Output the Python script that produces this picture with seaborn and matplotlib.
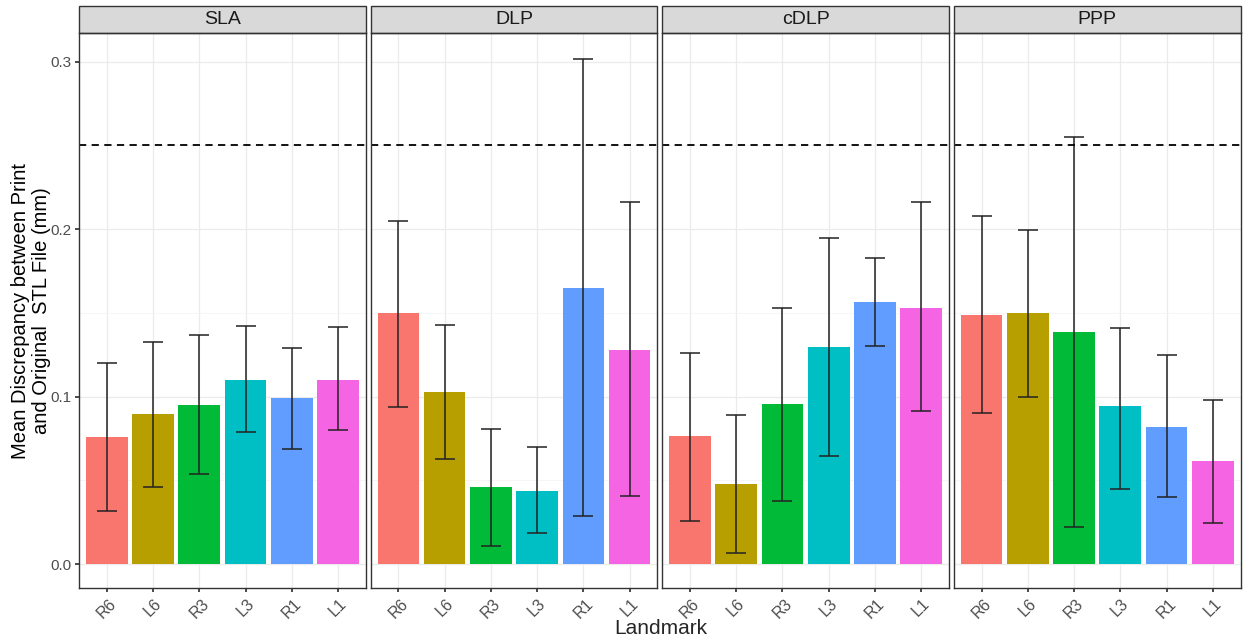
import numpy as np
import pandas as pd
import seaborn as sns
import matplotlib.pyplot as plt
from matplotlib.patches import Rectangle

methods = ["SLA", "DLP", "cDLP", "PPP"]
landmarks = ["R6", "L6", "R3", "L3", "R1", "L1"]
colors = ["#F8766D", "#B79F00", "#00BA38", "#00BFC4", "#619CFF", "#F564E3"]

sla_mean = [0.076, 0.0895, 0.095, 0.110, 0.099, 0.110]
sla_low = [0.032, 0.046, 0.054, 0.079, 0.069, 0.080]
sla_high = [0.120, 0.1325, 0.137, 0.142, 0.129, 0.1415]

dlp_mean = [0.150, 0.103, 0.046, 0.0436, 0.165, 0.128]
dlp_low = [0.094, 0.063, 0.011, 0.0185, 0.0287, 0.041]
dlp_high = [0.205, 0.143, 0.0806, 0.070, 0.3015, 0.216]

cdlp_mean = [0.0764, 0.048, 0.0955, 0.1296, 0.1564, 0.153]
cdlp_low = [0.026, 0.0066, 0.038, 0.0645, 0.130, 0.0913]
cdlp_high = [0.126, 0.089, 0.153, 0.1946, 0.1827, 0.216]

ppp_mean = [0.1487, 0.150, 0.1385, 0.0943, 0.0818, 0.0615]
ppp_low = [0.090, 0.0997, 0.022, 0.045, 0.040, 0.0245]
ppp_high = [0.2078, 0.1994, 0.255, 0.141, 0.1248, 0.098]

threshold = 0.25

means = [sla_mean, dlp_mean, cdlp_mean, ppp_mean]
lows = [sla_low, dlp_low, cdlp_low, ppp_low]
highs = [sla_high, dlp_high, cdlp_high, ppp_high]

sns.set_theme(style="white")
plt.rcParams['font.family'] = ['Liberation Sans', 'DejaVu Sans']

fig, axes = plt.subplots(1, 4, figsize=(12.43, 6.4), dpi=100, sharey=True)
fig.subplots_adjust(left=0.0636, right=0.998, bottom=0.081, top=0.948, wspace=0.017)

for i, (ax, method, m, lo, hi) in enumerate(zip(axes, methods, means, lows, highs)):
    df = pd.DataFrame({"Landmark": landmarks, "mean": m})
    sns.barplot(data=df, x="Landmark", y="mean", hue="Landmark", order=landmarks,
                palette=colors, width=0.9, legend=False, ax=ax, saturation=1)
    for p in ax.patches:
        p.set_edgecolor("none")
    ax.set_axisbelow(True)
    ax.set_yticks([0.05, 0.15, 0.25], minor=True)
    ax.grid(True, which="major", color="#EBEBEB", lw=0.9)
    ax.xaxis.grid(True, which="major", color="#EBEBEB", lw=0.9)
    ax.yaxis.grid(True, which="minor", color="#F3F3F3", lw=0.5)
    xs = np.arange(len(landmarks))
    m = np.array(m)
    ax.errorbar(xs, m, yerr=[m - np.array(lo), np.array(hi) - m], fmt="none",
                ecolor="#222222", elinewidth=1.1, capsize=7.5, capthick=1.1)
    ax.axhline(threshold, color="black", ls=(0, (4, 3)), lw=1.3)
    ax.set_xlim(-0.6, 5.6)
    ax.set_ylim(-0.0143, 0.317)
    ax.set_yticks([0.0, 0.1, 0.2, 0.3])
    ax.set_yticklabels(["0.0", "0.1", "0.2", "0.3"])
    ax.tick_params(axis="both", which="major", length=3, color="#333333",
                   labelsize=11, pad=2.5, labelcolor="#4D4D4D", left=(i == 0), bottom=True)
    ax.tick_params(axis="y", which="minor", length=0)
    for lab in ax.get_xticklabels():
        lab.set_rotation(45)
        lab.set_fontsize(11.5)
    for s in ax.spines.values():
        s.set_color("#333333")
        s.set_linewidth(1.0)
    ax.set_xlabel("")
    ax.set_ylabel("")
    strip = Rectangle((0, 1.0), 1, 0.0487, transform=ax.transAxes, clip_on=False,
                      facecolor="#D9D9D9", edgecolor="#333333", lw=1.0)
    ax.add_patch(strip)
    ax.text(0.5, 1.024, method, transform=ax.transAxes, ha="center", va="center",
            fontsize=14, color="#1A1A1A")

axes[0].set_ylabel("Mean Discrepancy between Print\nand Original  STL File (mm)",
                   fontsize=14.5, color="black", linespacing=1.12)
axes[0].yaxis.set_label_coords(-0.098, 0.5)
fig.text(0.532, 0.018, "Landmark", ha="center", va="center", fontsize=15)

plt.savefig("out.png", dpi=100)
